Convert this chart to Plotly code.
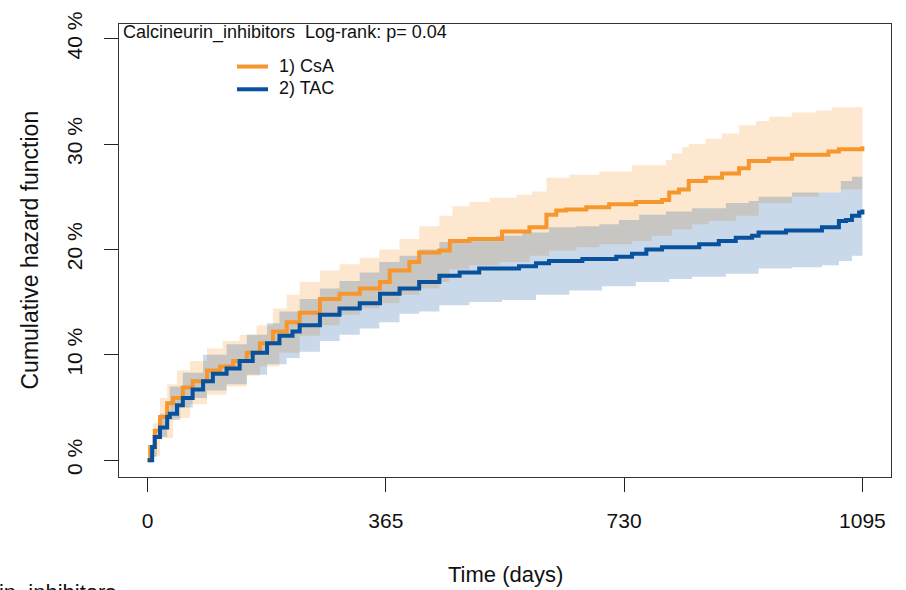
import plotly.graph_objects as go

# ---------------- data ----------------
groups = ["1) CsA", "2) TAC"]
x_ticks = [0, 365, 730, 1095]
y_ticks = [0, 10, 20, 30, 40]
y_ticktext = ["0 %", "10 %", "20 %", "30 %", "40 %"]

csa_t = [0, 4, 11, 19, 30, 39, 54, 69, 91, 111, 131, 152, 172, 192, 213, 233, 264, 294,
         325, 356, 371, 401, 416, 447, 463, 493, 543, 585, 611, 626, 641, 672, 707, 748,
         788, 799, 814, 829, 855, 880, 906, 921, 952, 987, 1043, 1059, 1095]
csa_v = [0, 1.25, 2.8, 4.1, 5.4, 5.9, 6.9, 7.5, 8.5, 8.9, 9.4, 10.2, 11.1, 12.2, 13.1, 14.0,
         15.3, 15.8, 16.3, 16.9, 18.0, 18.8, 19.7, 19.9, 20.8, 21.0, 21.7, 22.1, 23.3, 23.7,
         23.8, 24.0, 24.3, 24.5, 24.7, 25.4, 25.7, 26.5, 26.8, 27.2, 27.7, 28.4, 28.6, 29.0,
         29.3, 29.5, 29.8]

csa_up_t = [0, 8, 19, 30, 45, 65, 91, 115, 141, 167, 192, 213, 233, 264, 294, 325, 355, 386,
            416, 447, 467, 493, 524, 565, 589, 611, 646, 692, 742, 794, 803, 819, 829, 855,
            880, 906, 932, 952, 987, 1024, 1048, 1095]
csa_up_v = [0, 3.5, 5.9, 7.2, 8.5, 9.4, 10.6, 11.3, 11.9, 12.8, 14.4, 15.7, 16.9, 18.0, 18.6,
            19.2, 20.0, 21.0, 22.2, 23.2, 24.1, 24.5, 24.9, 25.2, 25.5, 26.8, 27.1, 27.4, 28.0,
            28.5, 29.1, 29.7, 30.0, 30.5, 31.0, 31.8, 32.2, 32.6, 33.0, 33.2, 33.5, 33.6]

csa_lo_t = [0, 8, 19, 39, 65, 91, 121, 152, 172, 202, 233, 264, 294, 325, 355, 386, 416, 447,
            462, 493, 539, 585, 615, 657, 692, 742, 772, 803, 834, 860, 901, 936, 987, 1028,
            1062, 1095]
csa_lo_v = [0, 0.4, 2.1, 4.0, 5.3, 6.2, 7.0, 8.0, 8.9, 10.2, 11.8, 12.8, 13.8, 14.4, 14.9,
            15.7, 16.3, 16.9, 18.1, 18.5, 18.8, 19.4, 19.9, 20.2, 20.5, 20.8, 21.3, 21.9, 22.4,
            22.7, 23.2, 24.4, 25.0, 25.4, 25.7, 25.7]

tac_t = [0, 7, 11, 19, 30, 34, 45, 54, 69, 85, 100, 121, 141, 161, 183, 202, 222, 233, 264,
         294, 325, 356, 386, 416, 447, 478, 508, 569, 595, 615, 666, 718, 742, 764, 788, 845,
         875, 901, 926, 936, 978, 1033, 1059, 1070, 1079, 1090, 1095]
tac_v = [0, 1.25, 2.2, 3.1, 4.1, 4.4, 5.2, 5.9, 6.7, 7.5, 8.2, 8.7, 9.4, 10.2, 11.1, 11.8,
         12.2, 12.8, 13.8, 14.4, 14.9, 15.8, 16.3, 16.9, 17.5, 17.8, 18.2, 18.4, 18.7, 18.9,
         19.1, 19.3, 19.6, 20.0, 20.2, 20.5, 20.8, 21.1, 21.3, 21.6, 21.8, 22.1, 22.7, 22.8,
         23.2, 23.5, 23.8]

tac_up_t = [0, 8, 19, 34, 54, 85, 121, 152, 183, 202, 233, 264, 294, 325, 355, 386, 416, 447,
            493, 534, 574, 615, 657, 692, 722, 753, 794, 834, 886, 921, 936, 987, 1028, 1062,
            1079, 1095]
tac_up_v = [0, 2.5, 4.4, 7.0, 8.3, 10.0, 11.0, 11.9, 13.0, 14.1, 15.3, 16.3, 17.0, 17.8, 18.8,
            19.4, 20.0, 20.7, 21.0, 21.3, 21.6, 22.1, 22.2, 22.4, 22.8, 23.3, 23.6, 23.9, 24.4,
            24.6, 25.0, 25.4, 25.4, 26.5, 26.9, 27.4]

tac_lo_t = [0, 4, 14, 30, 50, 69, 91, 121, 152, 183, 213, 233, 264, 294, 325, 355, 386, 416,
            447, 493, 543, 595, 646, 696, 748, 799, 834, 886, 936, 987, 1033, 1059, 1079, 1095]
tac_lo_v = [0, 0.3, 2.2, 3.8, 5.0, 5.9, 6.6, 7.2, 8.1, 9.1, 9.7, 10.3, 11.3, 11.9, 12.5,
            13.1, 13.9, 14.1, 14.7, 15.0, 15.2, 15.7, 16.1, 16.5, 16.9, 17.2, 17.4, 17.7, 18.2,
            18.3, 18.5, 18.9, 19.4, 19.7]

# ---------------- styling ----------------
ORANGE = "#F8962E"
BLUE = "#08519C"
ORANGE_FILL = "rgba(248,150,46,0.23)"
BLUE_FILL = "rgba(8,81,156,0.22)"
FONT = "Liberation Sans, Arial, sans-serif"
TXT = "#111111"


def steps(t, v):
    xs, ys = [], []
    for i in range(len(t)):
        if i > 0:
            xs.append(t[i])
            ys.append(v[i - 1])
        xs.append(t[i])
        ys.append(v[i])
    return xs, ys


def band(tu, vu, tl, vl):
    ux, uy = steps(tu, vu)
    lx, ly = steps(tl, vl)
    return ux + lx[::-1], uy + ly[::-1]


fig = go.Figure()

for (tu, vu, tl, vl, col) in [(csa_up_t, csa_up_v, csa_lo_t, csa_lo_v, ORANGE_FILL),
                              (tac_up_t, tac_up_v, tac_lo_t, tac_lo_v, BLUE_FILL)]:
    bx, by = band(tu, vu, tl, vl)
    fig.add_trace(go.Scatter(x=bx, y=by, mode="lines", fill="toself", fillcolor=col,
                             line=dict(width=0), hoverinfo="skip", showlegend=False))

fig.add_trace(go.Scatter(x=csa_t, y=csa_v, mode="lines", name=groups[0], showlegend=False,
                         line=dict(color=ORANGE, width=4, shape="hv")))
fig.add_trace(go.Scatter(x=tac_t, y=tac_v, mode="lines", name=groups[1], showlegend=False,
                         line=dict(color=BLUE, width=4, shape="hv")))

W, H = 906, 590
L, R, T, B = 119, 15, 19, 113
pw, ph = W - L - R, H - T - B


def px_x(x):
    return (x - L) / pw


def px_y(y):
    return 1 - (y - T) / ph


# manual legend (R-style, no box)
legend_shapes = []
legend_notes = []
for i, (name, col) in enumerate(zip(groups, [ORANGE, BLUE])):
    yy = 62 + 23 * i
    legend_shapes.append(dict(type="line", xref="paper", yref="paper",
                              x0=px_x(237), x1=px_x(268), y0=px_y(yy), y1=px_y(yy),
                              line=dict(color=col, width=4)))
    legend_notes.append(dict(text=name, xref="paper", yref="paper", x=px_x(277),
                             y=px_y(yy - 1), xanchor="left", yanchor="middle",
                             showarrow=False, font=dict(size=18, family=FONT, color=TXT)))

fig.update_layout(
    width=W, height=H,
    margin=dict(l=L, r=R, t=T, b=B),
    paper_bgcolor="white", plot_bgcolor="white",
    font=dict(family=FONT, color=TXT),
    showlegend=False,
    xaxis=dict(range=[-43.8, 1138.8], tickmode="array", tickvals=x_ticks,
               ticktext=[str(v) for v in x_ticks], ticks="outside", ticklen=14,
               tickwidth=1, tickcolor="#222", showgrid=False, zeroline=False,
               showline=True, linecolor="#333", linewidth=1, mirror=True,
               tickfont=dict(size=21, family=FONT, color=TXT), ticklabelstandoff=11),
    yaxis=dict(range=[-1.6, 41.4], tickmode="array", tickvals=y_ticks,
               ticktext=y_ticktext, ticks="outside", ticklen=14, tickwidth=1,
               tickcolor="#222", showgrid=False, zeroline=False, showline=True,
               linecolor="#333", linewidth=1, mirror=True, tickangle=-90,
               tickfont=dict(size=21, family=FONT, color=TXT), ticklabelstandoff=14),
    shapes=legend_shapes,
    annotations=[
        dict(text="Calcineurin_inhibitors  Log-rank: p= 0.04", xref="paper", yref="paper",
             x=px_x(121), y=px_y(28), xanchor="left", yanchor="middle", showarrow=False,
             font=dict(size=18, family=FONT, color=TXT)),
        dict(text="Time (days)", xref="paper", yref="paper", x=0.5, y=px_y(576),
             xanchor="center", yanchor="middle", showarrow=False,
             font=dict(size=22, family=FONT, color=TXT)),
        dict(text="Cumulative hazard function", xref="paper", yref="paper", x=px_x(29),
             y=0.5, xanchor="center", yanchor="middle", textangle=-90, showarrow=False,
             font=dict(size=23, family=FONT, color=TXT)),
        dict(text="Calcineurin_inhibitors", xref="paper", yref="paper", x=px_x(118),
             y=px_y(579), xanchor="right", yanchor="top", showarrow=False,
             font=dict(size=22, family=FONT, color=TXT)),
    ] + legend_notes,
)

fig.write_html("out.html")
